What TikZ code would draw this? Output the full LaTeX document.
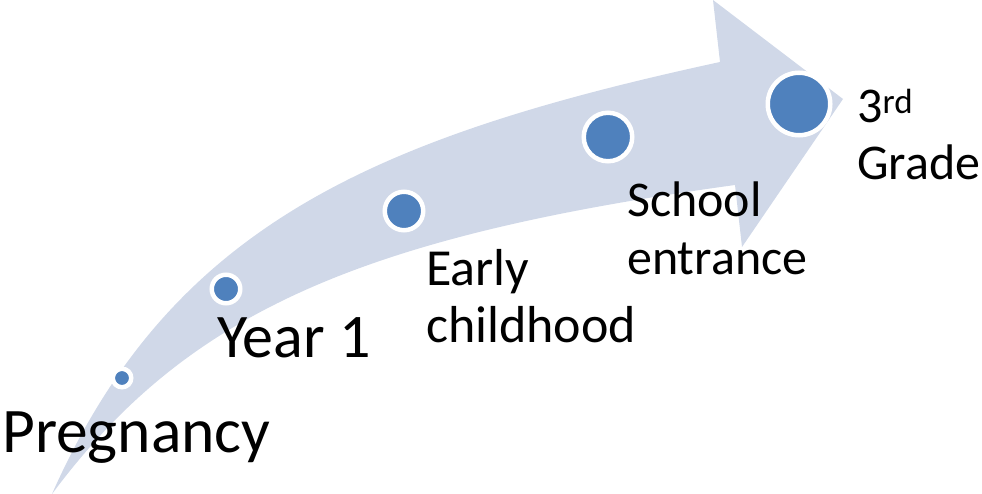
\documentclass[tikz,border=0pt]{standalone}
\usepackage{fontspec}
\setmainfont{Carlito}
\usetikzlibrary{positioning}
\definecolor{swoosh}{RGB}{208,216,232}
\definecolor{dotblue}{RGB}{79,129,189}
\tikzset{
  milestone/.style = {shape=circle, fill=dotblue, draw=white,
                      line width=4.5pt, inner sep=0pt},
  bigstage/.style  = {anchor=base west, inner sep=0pt,
                      font=\fontsize{62}{75}\selectfont},
  stage/.style     = {anchor=base west, inner sep=0pt, align=left,
                      font=\fontsize{50}{57}\selectfont}
}
\begin{document}
\begin{tikzpicture}[x=1pt, y=-1pt]
  \useasboundingbox (0,0) rectangle (982,494);
  % the curved arrow
  \fill[swoosh]
    (52,494) .. controls (170,228) and (369,138) .. (720,62)
    -- (713,0) -- (843,99) -- (742,247) -- (735,185)
    .. controls (357,237) and (186,314) .. cycle;

  % dots along the arrow
  \node[milestone, minimum size=18.5pt] (preg)   at (122,378) {};
  \node[milestone, minimum size=28.5pt] (year)   at (226,289) {};
  \node[milestone, minimum size=38.5pt] (early)  at (404,211) {};
  \node[milestone, minimum size=48.5pt] (school) at (608,137) {};
  \node[milestone, minimum size=62.5pt] (grade)  at (799,104) {};

  % labels (base = last line)
  \node[bigstage, font=\fontsize{63.5}{75}\selectfont]
                  (preg-label)   at (2,452)   {Pregnancy};
  \node[bigstage] (year-label)   at (217,357) {Year 1};
  \node[stage, font=\fontsize{52}{57}\selectfont]
                  (early-label)  at (426,342) {Early\\childhood};
  \node[stage]    (school-label) at (627,274) {School\\entrance};
  \node[stage]    (grade-label)  at (857,180) {3\textsuperscript{rd}\\Grade};
\end{tikzpicture}
\end{document}
